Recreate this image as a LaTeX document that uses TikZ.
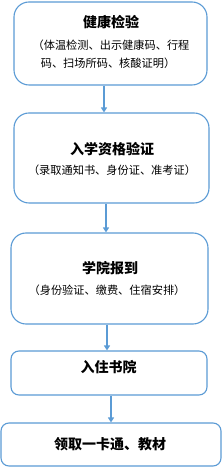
\documentclass[tikz,border=0pt]{standalone}
\usepackage{fontspec}
\newfontfamily\cjk{Noto Sans CJK SC}
\usetikzlibrary{arrows.meta}
\definecolor{bord}{HTML}{5B9BD5}
\begin{document}
\begin{tikzpicture}[x=1pt,y=1pt,
  box/.style={draw=bord,line width=1.1pt,fill=white,rounded corners=#1,inner sep=0pt},
  ttl/.style={font=\cjk\bfseries\fontsize{14}{16}\selectfont,inner sep=0pt},
  sub/.style={font=\cjk\fontsize{11.2}{13}\selectfont,inner sep=0pt},
  arr/.style={draw=bord,line width=1.3pt,-{Triangle[length=5pt,width=6pt]}}]
\useasboundingbox (0,0) rectangle (222,468);
\node[box=15pt,minimum width=193pt,minimum height=83pt] (b1) at (110.5,424.5) {};
\node[box=15pt,minimum width=195pt,minimum height=90pt] (b2) at (111.5,310) {};
\node[box=15pt,minimum width=197pt,minimum height=91pt] (b3) at (109.5,189.5) {};
\node[box=8pt,minimum width=196pt,minimum height=44pt] (b4) at (109,95) {};
\node[box=8pt,minimum width=220pt,minimum height=43pt] (b5) at (111,23.5) {};
\node[ttl] (t1) at (111,446) {健康检验};
\node[sub] (s1a) at (111,423) {（体温检测、出示健康码、行程};
\node[sub] (s1b) at (108,405) {码、扫场所码、核酸证明）};
\node[ttl] (t2) at (112,319) {入学资格验证};
\node[sub] (s2) at (112,298) {（录取通知书、身份证、准考证）};
\node[ttl] (t3) at (110,200) {学院报到};
\node[sub] (s3) at (107,178) {（身份验证、缴费、住宿安排）};
\node[ttl] (t4) at (108.5,101) {入住书院};
\node[ttl] (t5) at (110,24) {领取一卡通、教材};
\draw[arr] ([xshift=-6.5pt]b1.south) -- ([xshift=-7.5pt]b2.north);
\draw[arr] ([xshift=-5.5pt]b2.south) -- ([xshift=-3.5pt]b3.north);
\draw[arr] ([xshift=-2.5pt]b3.south) -- ([xshift=-2pt]b4.north);
\draw[arr] ([xshift=2pt]b4.south) -- ([xshift=0pt]b5.north);
\end{tikzpicture}
\end{document}
